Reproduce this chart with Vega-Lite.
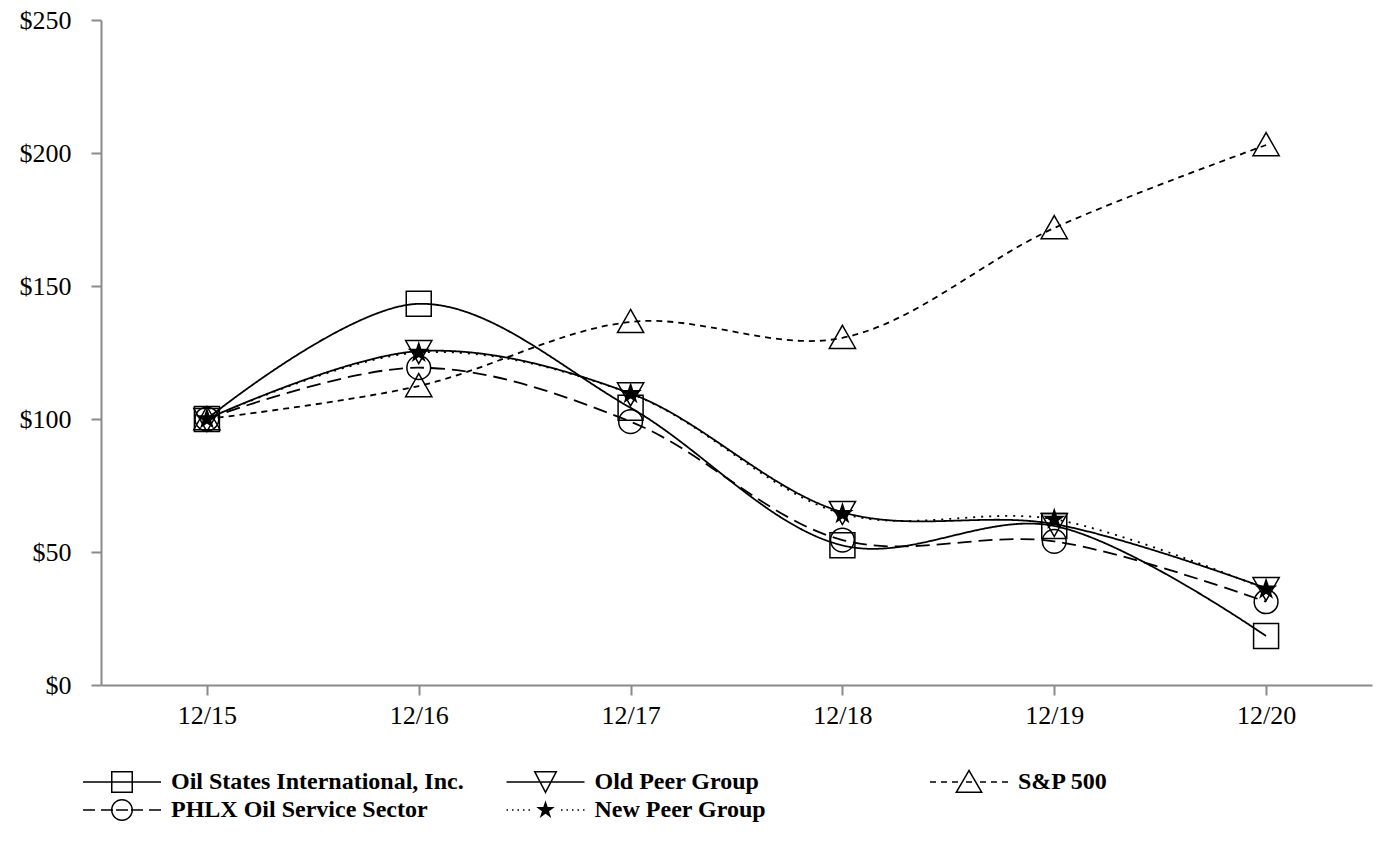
{
  "$schema": "https://vega.github.io/schema/vega-lite/v6.json",
  "width": 1271,
  "height": 665,
  "autosize": {"type": "none"},
  "padding": {"left": 101, "top": 20, "right": 20, "bottom": 167},
  "background": "white",
  "config": {
    "view": {"stroke": null},
    "axis": {
      "labelFont": "Liberation Serif",
      "labelFontSize": 26,
      "labelColor": "black",
      "domainColor": "#8a8a8a",
      "domainWidth": 2,
      "tickColor": "#8a8a8a",
      "tickWidth": 2,
      "tickSize": 10,
      "grid": false,
      "title": null
    }
  },
  "data": {
    "values": [
      {"series": "Oil States International, Inc.", "date": "12/15", "value": 100},
      {"series": "Oil States International, Inc.", "date": "12/16", "value": 143.3},
      {"series": "Oil States International, Inc.", "date": "12/17", "value": 104.2},
      {"series": "Oil States International, Inc.", "date": "12/18", "value": 52.5},
      {"series": "Oil States International, Inc.", "date": "12/19", "value": 59.8},
      {"series": "Oil States International, Inc.", "date": "12/20", "value": 18.4},
      {"series": "Old Peer Group", "date": "12/15", "value": 100},
      {"series": "Old Peer Group", "date": "12/16", "value": 125.5},
      {"series": "Old Peer Group", "date": "12/17", "value": 109.6},
      {"series": "Old Peer Group", "date": "12/18", "value": 65},
      {"series": "Old Peer Group", "date": "12/19", "value": 60.5},
      {"series": "Old Peer Group", "date": "12/20", "value": 36.4},
      {"series": "S&P 500", "date": "12/15", "value": 100},
      {"series": "S&P 500", "date": "12/16", "value": 112.4},
      {"series": "S&P 500", "date": "12/17", "value": 136.5},
      {"series": "S&P 500", "date": "12/18", "value": 130.5},
      {"series": "S&P 500", "date": "12/19", "value": 171.8},
      {"series": "S&P 500", "date": "12/20", "value": 203},
      {"series": "PHLX Oil Service Sector", "date": "12/15", "value": 100},
      {"series": "PHLX Oil Service Sector", "date": "12/16", "value": 119.3},
      {"series": "PHLX Oil Service Sector", "date": "12/17", "value": 99},
      {"series": "PHLX Oil Service Sector", "date": "12/18", "value": 54.5},
      {"series": "PHLX Oil Service Sector", "date": "12/19", "value": 54},
      {"series": "PHLX Oil Service Sector", "date": "12/20", "value": 31.3},
      {"series": "New Peer Group", "date": "12/15", "value": 100},
      {"series": "New Peer Group", "date": "12/16", "value": 125},
      {"series": "New Peer Group", "date": "12/17", "value": 109.5},
      {"series": "New Peer Group", "date": "12/18", "value": 64.4},
      {"series": "New Peer Group", "date": "12/19", "value": 62.3},
      {"series": "New Peer Group", "date": "12/20", "value": 36}
    ]
  },
  "encoding": {
    "x": {
      "field": "date",
      "type": "ordinal",
      "scale": {"type": "point", "padding": 0.5},
      "axis": {"labelAngle": 0, "labelPadding": 7}
    },
    "y": {
      "field": "value",
      "type": "quantitative",
      "scale": {"domain": [0, 250], "nice": false, "zero": true},
      "axis": {"values": [0, 50, 100, 150, 200, 250], "format": "$.0f", "labelPadding": 20}
    }
  },
  "resolve": {"scale": {"shape": "independent"}},
  "layer": [
    {
      "mark": {"type": "line", "interpolate": "catmull-rom", "stroke": "black", "strokeWidth": 1.8},
      "encoding": {
        "detail": {"field": "series"},
        "strokeDash": {
          "field": "series",
          "type": "nominal",
          "scale": {
            "domain": ["New Peer Group", "PHLX Oil Service Sector", "S&P 500", "Old Peer Group", "Oil States International, Inc."],
            "range": [[2, 6], [14, 7], [6, 5], [1, 0], [1, 0]]
          },
          "legend": null
        }
      }
    },
    {
      "mark": {"type": "point", "filled": true, "size": 625, "stroke": "black", "strokeWidth": 1.5, "opacity": 1},
      "encoding": {
        "fill": {
          "condition": {"test": "datum.series === 'New Peer Group'", "value": "black"},
          "value": "transparent"
        },
        "shape": {
          "field": "series",
          "type": "nominal",
          "scale": {
            "domain": ["Oil States International, Inc.", "Old Peer Group", "S&P 500", "PHLX Oil Service Sector", "New Peer Group"],
            "range": [
              "M-1,-1H1V1H-1Z",
              "M-1.05,-0.85H1.05L0,1Z",
              "M0,-1L1.05,0.85H-1.05Z",
              "M-0.95,0A0.95,0.95,0,1,1,0.95,0A0.95,0.95,0,1,1,-0.95,0Z",
              "M0,-0.75L0.168,-0.231L0.713,-0.232L0.272,0.088L0.441,0.607L0,0.286L-0.441,0.607L-0.272,0.088L-0.713,-0.232L-0.168,-0.231Z"
            ]
          },
          "legend": null
        }
      }
    },
    {
      "transform": [{"filter": "datum.value < 0"}],
      "mark": {"type": "point", "filled": true, "color": "black", "opacity": 1},
      "encoding": {
        "shape": {
          "field": "series",
          "type": "nominal",
          "scale": {
            "domain": ["Oil States International, Inc.", "Old Peer Group", "S&P 500", "PHLX Oil Service Sector", "New Peer Group"],
            "range": [
              "M-3.9,-0.08H3.9V0.08H-3.9ZM-1.1,-1.1H1.1V1.1H-1.1ZM-0.95,-0.95V0.95H0.95V-0.95Z",
              "M-3.9,-0.08H3.9V0.08H-3.9ZM-1.2,-1.1H1.2L0,1.2ZM-0.953,-0.95L0,0.876L0.953,-0.95Z",
              "M-3.9,-0.08H-3.3V0.08H-3.9ZM-2.8,-0.08H-2.2V0.08H-2.8ZM-1.7,-0.08H-1.1V0.08H-1.7ZM-0.3,-0.08H0.3V0.08H-0.3ZM1.1,-0.08H1.7V0.08H1.1ZM2.2,-0.08H2.8V0.08H2.2ZM3.3,-0.08H3.9V0.08H3.3ZM0,-1.3L1.4,1.1H-1.4ZM0,-1.002L-1.138,0.95H1.138Z",
              "M-3.9,-0.08H-2.7V0.08H-3.9ZM-2.1,-0.08H-0.9V0.08H-2.1ZM-0.6,-0.08H0.6V0.08H-0.6ZM0.9,-0.08H2.1V0.08H0.9ZM2.7,-0.08H3.9V0.08H2.7ZM-1.1,0A1.1,1.1,0,1,1,1.1,0A1.1,1.1,0,1,1,-1.1,0ZM-0.95,0A0.95,0.95,0,1,0,0.95,0A0.95,0.95,0,1,0,-0.95,0Z",
              "M-3.9,-0.08H-3.75V0.08H-3.9ZM-3.35,-0.08H-3.2V0.08H-3.35ZM-2.8,-0.08H-2.65V0.08H-2.8ZM-2.25,-0.08H-2.1V0.08H-2.25ZM-1.7,-0.08H-1.55V0.08H-1.7ZM1.55,-0.08H1.7V0.08H1.55ZM2.1,-0.08H2.25V0.08H2.1ZM2.65,-0.08H2.8V0.08H2.65ZM3.2,-0.08H3.35V0.08H3.2ZM3.75,-0.08H3.9V0.08H3.75ZM0,-0.978L0.219,-0.301L0.929,-0.302L0.354,0.115L0.575,0.791L0,0.373L-0.575,0.791L-0.354,0.115L-0.929,-0.302L-0.219,-0.301Z"
            ]
          },
          "legend": {
            "title": null,
            "orient": "none",
            "legendX": 9,
            "legendY": 750,
            "direction": "horizontal",
            "columns": 3,
            "gridAlign": "all",
            "columnPadding": 42.5,
            "rowPadding": 4,
            "padding": 0,
            "symbolSize": 400,
            "symbolStrokeWidth": 0,
            "symbolStrokeColor": "transparent",
            "symbolFillColor": "black",
            "symbolOpacity": 1,
            "labelOffset": 37,
            "labelFont": "Liberation Serif",
            "labelFontSize": 24,
            "labelFontWeight": "bold",
            "labelColor": "black",
            "labelLimit": 1000
          }
        }
      }
    }
  ]
}
